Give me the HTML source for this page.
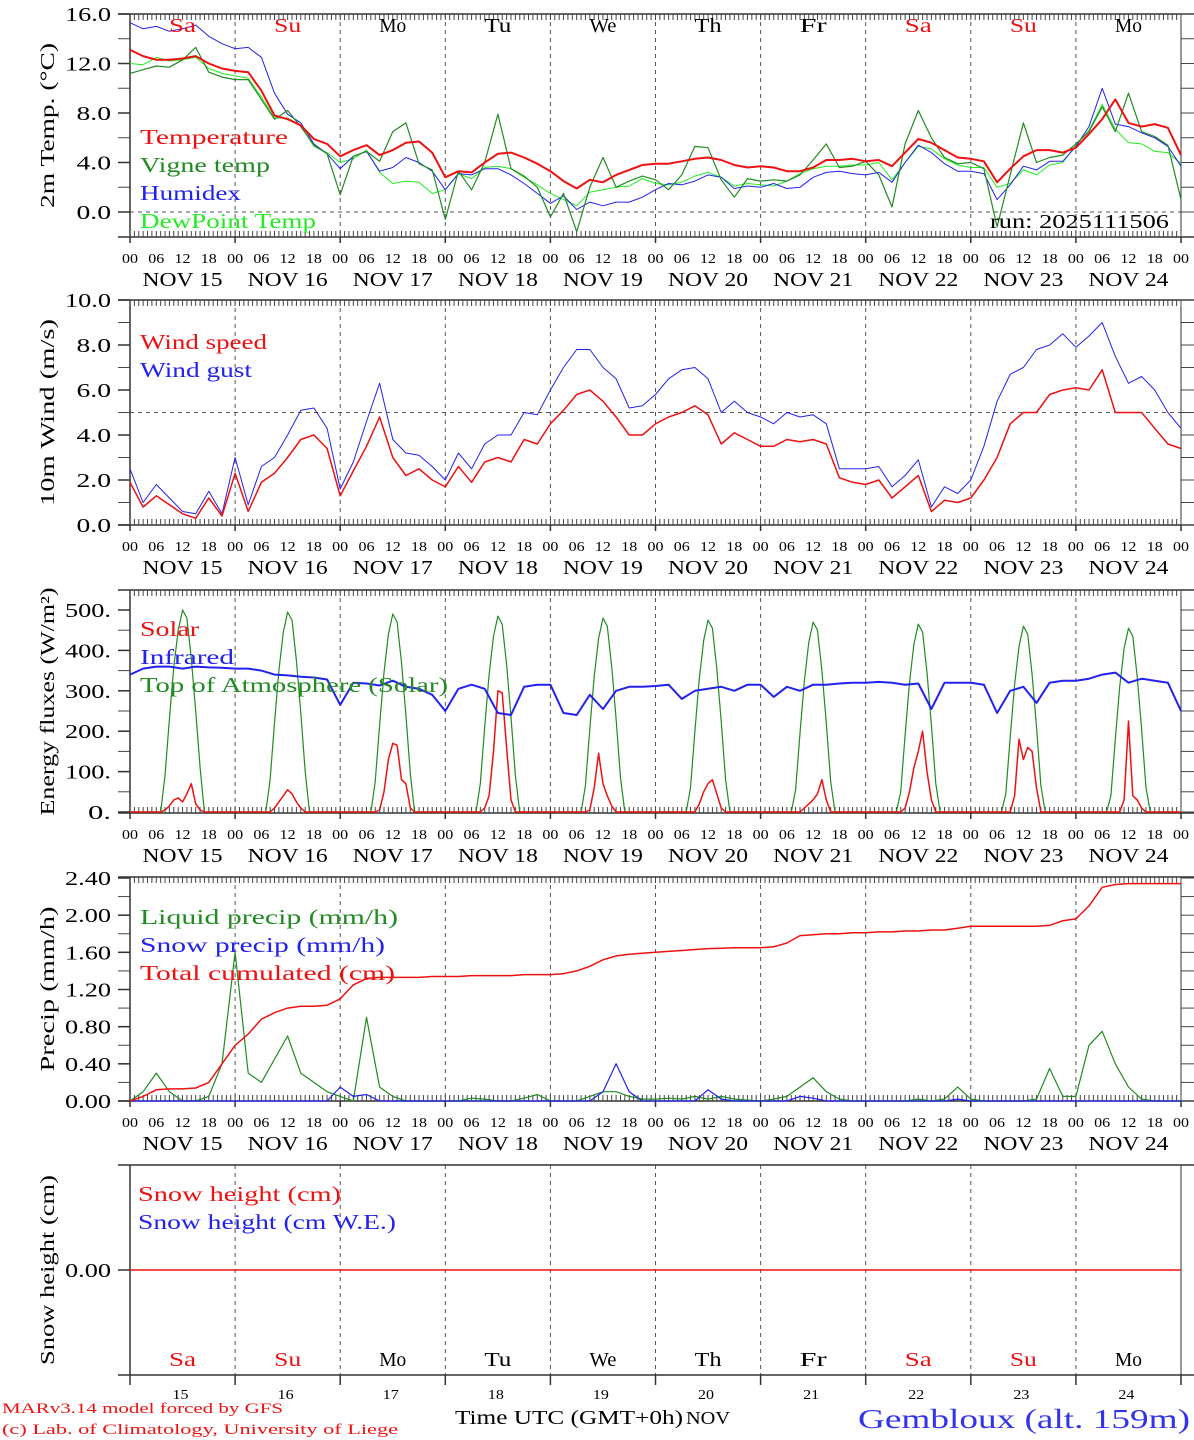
<!DOCTYPE html>
<html><head><meta charset="utf-8"><style>
html,body{margin:0;padding:0;background:#fff;}
svg{display:block;font-family:"Liberation Serif",serif;}
</style></head><body>
<svg id="chart" width="1194" height="1440" viewBox="0 0 1194 1440" xmlns="http://www.w3.org/2000/svg"></svg>
<script>
// ---- data (3-hourly unless noted) ----
const dayNums=[15,16,17,18,19,20,21,22,23,24];
const dayNames=["Sa","Su","Mo","Tu","We","Th","Fr","Sa","Su","Mo"];
const temperature=[13.1,12.6,12.3,12.3,12.4,12.6,12.0,11.6, 11.4,11.3,9.8,7.8,7.5,7.0,5.9,5.5, 4.5,5.0,5.4,4.6,5.0,5.6,5.7,4.8, 2.8,3.3,3.2,4.0,4.7,4.8,4.4,3.9, 3.3,2.5,1.9,2.6,2.4,3.0,3.4,3.8, 3.9,3.9,4.1,4.3,4.4,4.2,3.8,3.6, 3.7,3.6,3.3,3.3,3.6,4.2,4.2,4.3, 4.1,4.2,3.7,4.8,5.9,5.6,5.0,4.4, 4.3,4.1,2.4,3.5,4.5,5.0,5.0,4.8, 5.2,6.3,7.5,9.1,7.2,6.9,7.1,6.8,4.6];
const vigneTemp=[11.2,11.5,11.8,11.7,12.3,13.3,11.3,10.9, 10.7,10.7,9.1,7.5,8.2,6.9,5.4,4.7, 1.4,4.5,4.9,4.1,6.5,7.2,3.9,3.4, -0.6,3.3,1.8,4.0,7.9,3.5,2.9,2.0, -0.4,1.5,-1.6,2.0,4.4,2.0,2.5,2.9, 2.6,1.8,3.0,5.3,5.2,2.6,1.2,2.7, 2.5,2.6,2.5,3.0,4.2,5.5,3.6,3.7, 4.1,3.0,0.4,5.5,8.2,6.0,4.4,3.9, 4.0,3.5,-1.2,3.0,7.2,4.0,4.4,4.6, 5.5,6.5,8.5,6.5,9.6,6.5,6.1,5.4,1.0];
const humidex=[15.3,14.8,15.0,14.6,14.8,15.1,14.2,13.6, 13.2,13.3,12.5,9.6,7.9,7.2,5.5,4.7, 3.5,4.5,4.9,3.3,3.6,4.4,4.0,3.3, 1.8,3.1,3.0,3.5,3.5,3.0,2.3,1.5, 0.7,1.3,0.2,0.8,0.5,0.8,0.8,1.2, 1.8,2.3,2.2,2.5,3.0,2.8,1.9,2.1, 2.0,2.3,1.9,2.0,2.8,3.2,3.3,3.1, 3.0,3.2,2.4,4.0,5.4,4.8,3.9,3.3, 3.3,3.1,1.0,2.2,3.7,3.4,4.1,4.1, 5.3,6.9,10.0,7.1,6.9,6.4,6.0,5.3,3.7];
const dewPoint=[12.0,11.9,12.5,12.2,12.3,12.5,11.6,11.2, 11.0,10.8,9.3,7.6,7.6,7.0,5.3,4.8, 4.0,4.3,5.0,3.2,2.3,2.5,2.4,1.5, 1.8,3.1,2.7,3.6,3.7,3.5,2.8,2.2, 1.5,1.0,0.5,1.6,1.8,2.0,2.1,2.7, 2.3,2.2,2.4,2.9,3.2,2.8,2.1,2.3, 2.2,2.1,2.5,3.1,3.5,3.7,3.7,3.8, 3.8,4.0,2.6,4.0,5.3,5.1,4.3,3.8, 3.6,3.6,2.0,2.3,3.4,3.0,3.8,4.0, 5.4,6.6,8.7,6.7,5.6,5.5,4.9,4.8,3.9];
const windSpeed=[1.9,0.8,1.3,0.9,0.5,0.3,1.2,0.4, 2.3,0.6,1.9,2.3,3.0,3.8,4.0,3.4, 1.3,2.4,3.5,4.8,3.0,2.2,2.5,2.0, 1.7,2.6,1.9,2.8,3.0,2.8,3.8,3.6, 4.5,5.1,5.8,6.0,5.5,4.8,4.0,4.0, 4.5,4.8,5.0,5.3,4.9,3.6,4.1,3.8, 3.5,3.5,3.8,3.7,3.8,3.6,2.1,1.9, 1.8,2.0,1.2,1.7,2.2,0.6,1.1,1.0, 1.2,2.0,3.0,4.5,5.0,5.0,5.8,6.0, 6.1,6.0,6.9,5.0,5.0,5.0,4.3,3.6,3.4];
const windGust=[2.5,1.0,1.8,1.2,0.6,0.5,1.5,0.5, 3.0,0.9,2.6,3.0,4.0,5.1,5.2,4.3, 1.6,2.8,4.6,6.3,3.8,3.2,3.1,2.6, 2.0,3.2,2.5,3.6,4.0,4.0,5.0,4.9, 6.0,7.0,7.8,7.8,7.0,6.5,5.2,5.3, 5.8,6.5,6.9,7.0,6.5,5.0,5.5,5.0, 4.8,4.5,5.0,4.8,4.9,4.5,2.5,2.5, 2.5,2.6,1.7,2.2,2.9,0.8,1.7,1.4, 2.0,3.5,5.5,6.7,7.0,7.8,8.0,8.5, 7.9,8.4,9.0,7.5,6.3,6.6,6.0,5.0,4.3];
const infrared=[340,355,360,360,355,360,358,357, 355,355,350,340,338,335,333,328, 265,320,318,313,325,310,305,290, 250,305,315,305,245,240,310,315, 315,245,240,290,255,300,310,310, 312,315,280,300,305,310,300,315, 315,285,310,300,315,315,318,320, 320,322,320,315,318,255,320,320, 320,315,245,300,310,270,320,325, 325,330,340,345,320,330,325,320,250];
// hourly daylight values, hours 7..18, one row per day
const toaDaylight=[
[0,90,230,360,450,500,480,380,250,110,0,0],
[0,80,220,350,445,495,475,375,245,100,0,0],
[0,75,215,345,440,490,470,370,240,95,0,0],
[0,70,210,340,435,485,465,365,235,90,0,0],
[0,65,205,335,430,480,460,360,230,85,0,0],
[0,60,200,330,425,475,455,355,225,80,0,0],
[0,55,195,325,420,470,450,350,220,75,0,0],
[0,50,190,320,415,465,445,345,215,70,0,0],
[0,45,185,315,410,460,440,340,210,65,0,0],
[0,40,180,310,405,455,435,335,205,60,0,0]];
const solarDaylight=[
[0,5,15,30,35,25,45,70,20,5,0,0],
[0,0,10,25,40,55,45,25,10,0,0,0],
[0,0,5,50,130,170,165,80,70,10,0,0],
[0,0,10,40,150,300,295,160,30,0,0,0],
[0,0,5,60,145,70,40,15,0,0,0,0],
[0,0,0,20,50,70,80,45,10,0,0,0],
[0,0,0,10,20,30,45,80,30,0,0,0],
[0,0,10,50,110,150,200,100,30,0,0,0],
[0,0,0,40,180,130,160,150,60,0,0,0],
[0,0,0,0,30,225,40,30,10,0,0,0]];
const liquidPrecip=[0,0.1,0.3,0.1,0.0,0.0,0.05,0.4, 1.6,0.3,0.2,0.45,0.7,0.3,0.2,0.1, 0.05,0.0,0.9,0.15,0.05,0,0,0, 0,0,0.03,0.02,0,0,0.03,0.07, 0,0,0,0.05,0.1,0.1,0.05,0.02, 0.02,0.03,0.02,0.05,0.02,0.05,0.02,0.01, 0,0.02,0.05,0.15,0.25,0.1,0.02,0, 0,0,0,0,0.02,0,0.02,0.15, 0.02,0,0,0,0,0.02,0.35,0.05, 0.05,0.6,0.75,0.4,0.15,0.02,0,0,0];
const snowPrecip=[0,0,0,0,0,0,0,0, 0,0,0,0,0,0,0,0, 0.15,0.05,0.07,0,0,0,0,0, 0,0,0,0,0,0,0,0, 0,0,0,0,0.1,0.4,0.1,0, 0,0,0,0,0.12,0.02,0,0, 0,0,0,0.05,0.03,0,0,0, 0,0,0,0,0,0,0,0.02, 0,0,0,0,0,0,0,0, 0,0,0,0,0,0,0,0,0];
const totalCumul=[0,0.05,0.12,0.13,0.13,0.14,0.2,0.4, 0.6,0.72,0.88,0.95,1.0,1.02,1.02,1.03, 1.1,1.25,1.32,1.33,1.33,1.33,1.33,1.34, 1.34,1.34,1.35,1.35,1.35,1.35,1.36,1.36, 1.36,1.37,1.4,1.45,1.52,1.56,1.58,1.59, 1.6,1.61,1.62,1.63,1.64,1.645,1.65,1.65, 1.65,1.66,1.7,1.78,1.79,1.8,1.8,1.81, 1.81,1.82,1.82,1.83,1.83,1.84,1.84,1.86, 1.88,1.88,1.88,1.88,1.88,1.88,1.89,1.94, 1.96,2.1,2.3,2.33,2.34,2.34,2.34,2.34,2.34];
const snowHeight=[0,0];
const tickLabels1=["16.0","12.0","8.0","4.0","0.0"];
const tickValues1=[16,12,8,4,0];
const tickLabels2=["10.0","8.0","6.0","4.0","2.0","0.0"];
const tickValues2=[10,8,6,4,2,0];
const tickLabels3=["500.","400.","300.","200.","100.","0."];
const tickValues3=[500,400,300,200,100,0];
const tickLabels4=["2.40","2.00","1.60","1.20","0.80","0.40","0.00"];
const tickValues4=[2.4,2.0,1.6,1.2,0.8,0.4,0];

// ---- drawing ----
const NS="http://www.w3.org/2000/svg";
const svg=document.getElementById('chart');
const X0=130,X1=1181;
function xh(h){return X0+h*(X1-X0)/240;}
function mk(tag,attrs,parent){const e=document.createElementNS(NS,tag);for(const k in attrs)e.setAttribute(k,attrs[k]);(parent||svg).appendChild(e);return e;}
function txt(s,x,y,size,fill,anchor,parent,w){const t=mk('text',{x:x,y:y,'font-size':size,fill:fill,'text-anchor':anchor||'start'},parent);t.textContent=s;
 if(w){t.setAttribute('textLength',w);t.setAttribute('lengthAdjust','spacingAndGlyphs');}return t;}
function scale(vA,yA,vB,yB){return v=>yA+(v-vA)*(yB-yA)/(vB-vA);}
const CW=11.5; // per-char width for 20px labels (Hershey-like)

const panels=[
 {name:'temp',top:14,bot:237,y:scale(16,14,0,212),tv:tickValues1,tl:tickLabels1,minor:2,title:'2m Temp. (°C)',tw:165,dash:0,rows:true},
 {name:'wind',top:300,bot:525,y:scale(10,300,0,525),tv:tickValues2,tl:tickLabels2,minor:1,title:'10m Wind (m/s)',tw:187,dash:5,rows:true},
 {name:'energy',top:590,bot:813,y:scale(500,610,0,812),tv:tickValues3,tl:tickLabels3,minor:50,title:'Energy fluxes (W/m²)',tw:228,dash:null,rows:true},
 {name:'precip',top:877,bot:1101,y:scale(2.4,878,0,1101),tv:tickValues4,tl:tickLabels4,minor:0.2,title:'Precip (mm/h)',tw:165,dash:null,rows:true},
 {name:'snow',top:1165,bot:1375,y:v=>1270-v*100,tv:[0],tl:["0.00"],minor:null,title:'Snow height (cm)',tw:190,dash:null,rows:false}
];

panels.forEach((p,pi)=>{
 const g=mk('g',{});
 
 
 for(let d=1;d<10;d++){const l=mk('line',{x1:xh(d*24),x2:xh(d*24),y1:p.top,y2:p.bot,stroke:'#555','stroke-width':1,'stroke-dasharray':'4,4'},g);
  }
 if(p.dash!==null){const l=mk('line',{x1:X0,x2:X1,y1:p.y(p.dash),y2:p.y(p.dash),stroke:'#555','stroke-width':1,'stroke-dasharray':'4,4'},g);
  }
 mk('line',{x1:X0,x2:X0,y1:p.top,y2:p.bot,stroke:'#333','stroke-width':1.5},g);
 mk('line',{x1:X1,x2:X1,y1:p.top,y2:p.bot,stroke:'#333','stroke-width':1},g);
 mk('line',{x1:118,x2:1194,y1:p.top,y2:p.top,stroke:'#333','stroke-width':1.5},g);
 mk('line',{x1:118,x2:1194,y1:p.bot,y2:p.bot,stroke:'#333','stroke-width':1.5},g);
 if(p.rows){
  for(let h=0;h<=240;h++){const x=xh(h);
   mk('line',{x1:x,x2:x,y1:p.top,y2:p.top+6,stroke:'#444','stroke-width':1},g);
   mk('line',{x1:x,x2:x,y1:p.bot-6,y2:p.bot,stroke:'#444','stroke-width':1},g);}
  for(let h=0;h<=240;h+=24){mk('line',{x1:xh(h),x2:xh(h),y1:p.bot,y2:p.bot+6,stroke:'#333','stroke-width':1.5},g);}
  for(let h=0;h<=240;h+=6){const hh=String(h%24).padStart(2,'0');
   const t=txt(hh,xh(h),p.bot+26,14,'#000','middle',g,16);
   }
  dayNums.forEach((dn,i)=>{const t=txt('NOV '+dn,xh(i*24+12),p.bot+49,20,'#000','middle',g,80);
   });
 } else {
  for(let h=0;h<=240;h+=24){mk('line',{x1:xh(h),x2:xh(h),y1:p.bot,y2:p.bot+10,stroke:'#333','stroke-width':1.5},g);}
 }
 if(p.minor){const vt=p.tv[0],vb=p.tv[p.tv.length-1];
  for(let v=vb;v<=vt+1e-9;v+=p.minor){const y=p.y(v);
   mk('line',{x1:118,x2:X0,y1:y,y2:y,stroke:'#444','stroke-width':1},g);
   mk('line',{x1:X1,x2:1194,y1:y,y2:y,stroke:'#444','stroke-width':1},g);}}
 p.tv.forEach((v,i)=>{const y=p.y(v);
  mk('line',{x1:118,x2:X0,y1:y,y2:y,stroke:'#333','stroke-width':1.5},g);
  const t=txt(p.tl[i],111,y+7,20,'#000','end',g,p.tl[i].length*CW);
  });
 const yt=p.top+(p.bot-p.top)/2;
 const ttl=txt(p.title,0,0,20,'#000','middle',g,p.tw);ttl.setAttribute('transform',`translate(54,${yt}) rotate(-90)`);
 
});

function series(arr,stepH,yf,color,w,name){
 const pts=arr.map((v,i)=>xh(i*stepH).toFixed(1)+','+yf(v).toFixed(1)).join(' ');
 const l=mk('polyline',{points:pts,fill:'none',stroke:color,'stroke-width':w,'stroke-linejoin':'round'});
 }
function daylight(rows){const out=new Array(241).fill(0);rows.forEach((r,d)=>r.forEach((v,k)=>{out[d*24+7+k]=v;}));return out;}

const P=panels;
series(dewPoint,3,P[0].y,'#22ee22',1,'dewpoint-line');
series(humidex,3,P[0].y,'#2222ee',1,'humidex-line');
series(vigneTemp,3,P[0].y,'#228b22',1.2,'vigne-temp-line');
series(temperature,3,P[0].y,'#ee1111',2,'temperature-line');
series(windGust,3,P[1].y,'#2222ee',1,'wind-gust-line');
series(windSpeed,3,P[1].y,'#ee1111',1.5,'wind-speed-line');
series(daylight(toaDaylight),1,P[2].y,'#228b22',1.2,'toa-solar-line');
series(daylight(solarDaylight),1,P[2].y,'#ee1111',1.5,'solar-line');
series(infrared,3,P[2].y,'#2222ee',2,'infrared-line');
series(liquidPrecip,3,P[3].y,'#228b22',1.2,'liquid-precip-line');
series(snowPrecip,3,P[3].y,'#2222ee',1.2,'snow-precip-line');
series(totalCumul,3,P[3].y,'#ee1111',1.5,'total-cumulated-line');
series(snowHeight,240,P[4].y,'#ee1111',1.5,'snow-height-line');

function legend(items,x,y0,dy){items.forEach((it,i)=>{const t=txt(it[0],x,y0+i*dy,21,it[1],'start',null,it[2]);
 });}
legend([['Temperature','#ee1111',148],['Vigne temp','#228b22',130],['Humidex','#2222ee',101],['DewPoint Temp','#22ee22',176]],140,144,28);
legend([['Wind speed','#ee1111',127],['Wind gust','#2222ee',112]],140,349,28);
legend([['Solar','#ee1111',59],['Infrared','#2222ee',94],['Top of Atmosphere (Solar)','#228b22',308]],140,636,28);
legend([['Liquid precip (mm/h)','#228b22',258],['Snow precip (mm/h)','#2222ee',245],['Total cumulated (cm)','#ee1111',255]],140,924,28);
legend([['Snow height (cm)','#ee1111',203],['Snow height (cm W.E.)','#2222ee',258]],138,1201,28);

const run=txt('run: 2025111506',1169,228,20,'#000','end',null,179);

dayNames.forEach((n,i)=>{const c=(n==='Sa'||n==='Su')?'#ee1111':'#000';
 const a=txt(n,xh(i*24+12),32,20,c,'middle',null,27);
 const b=txt(n,xh(i*24+12),1366,20,c,'middle',null,27);
 const d=txt(String(dayNums[i]),xh(i*24+12)-2,1399,14,'#000','middle',null,16);
 });
const xt=txt('Time UTC (GMT+0h)',455,1424,20,'#000','start',null,228);
const nv=txt('NOV',686,1424,18,'#000','start',null,44);
const loc=txt('Gembloux (alt. 159m)',1190,1428,27,'#3333ee','end',null,332);
const f1=txt('MARv3.14 model forced by GFS',2,1413,15,'#ee1111','start',null,281);
const f2=txt('(c) Lab. of Climatology, University of Liege',2,1434,15,'#ee1111','start',null,396);
</script>
</body></html>
